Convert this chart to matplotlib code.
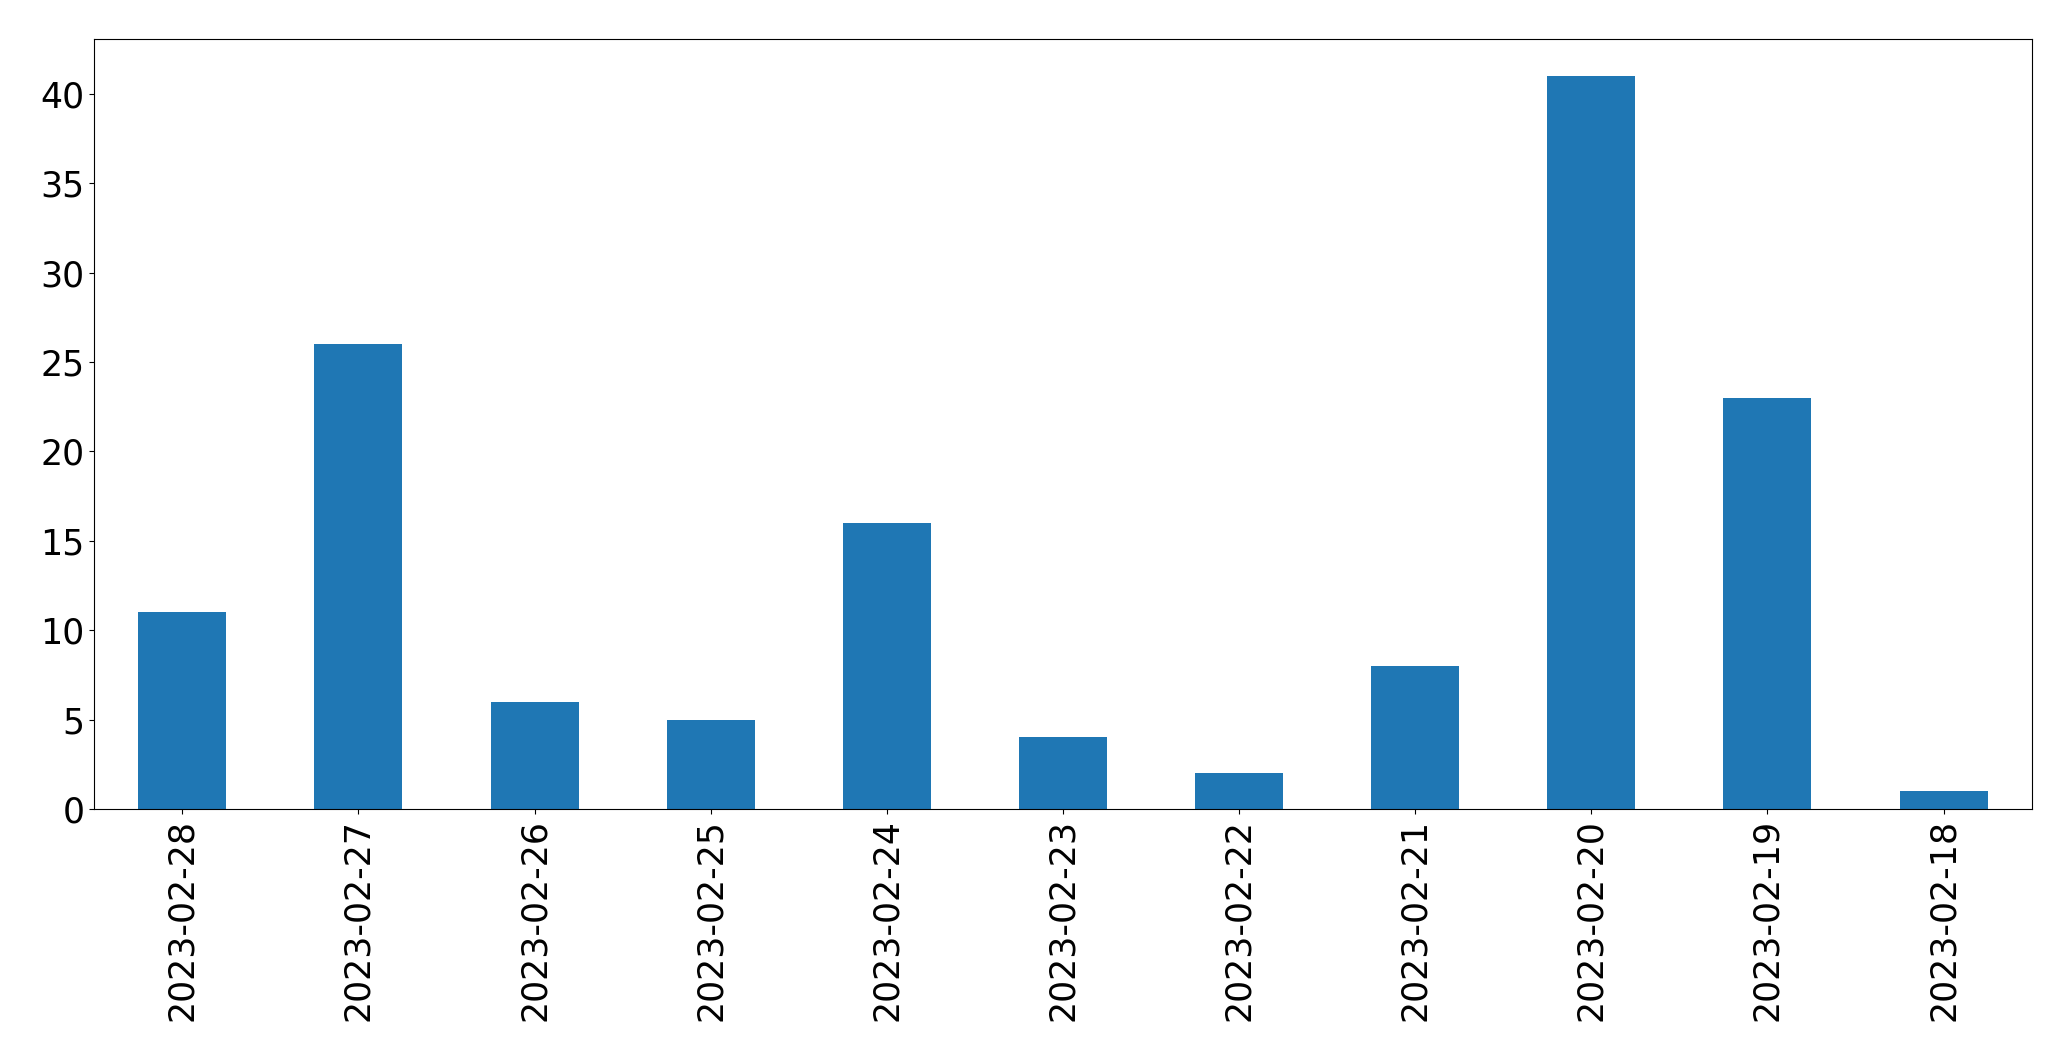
import matplotlib
matplotlib.use("Agg")
import matplotlib.pyplot as plt
import pandas as pd

dates = ["2023-02-28", "2023-02-27", "2023-02-26", "2023-02-25", "2023-02-24",
         "2023-02-23", "2023-02-22", "2023-02-21", "2023-02-20", "2023-02-19",
         "2023-02-18"]
counts = [11, 26, 6, 5, 16, 4, 2, 8, 41, 23, 1]

s = pd.Series(counts, index=dates)

fig = plt.figure(figsize=(20.71, 10.61), dpi=100)
ax = fig.add_axes([0.0455, 0.2375, 0.9355, 0.7255])
s.plot(kind="bar", ax=ax, color="#1f77b4", fontsize=25)
ax.tick_params(labelsize=25)
fig.savefig("out.png", dpi=100)
